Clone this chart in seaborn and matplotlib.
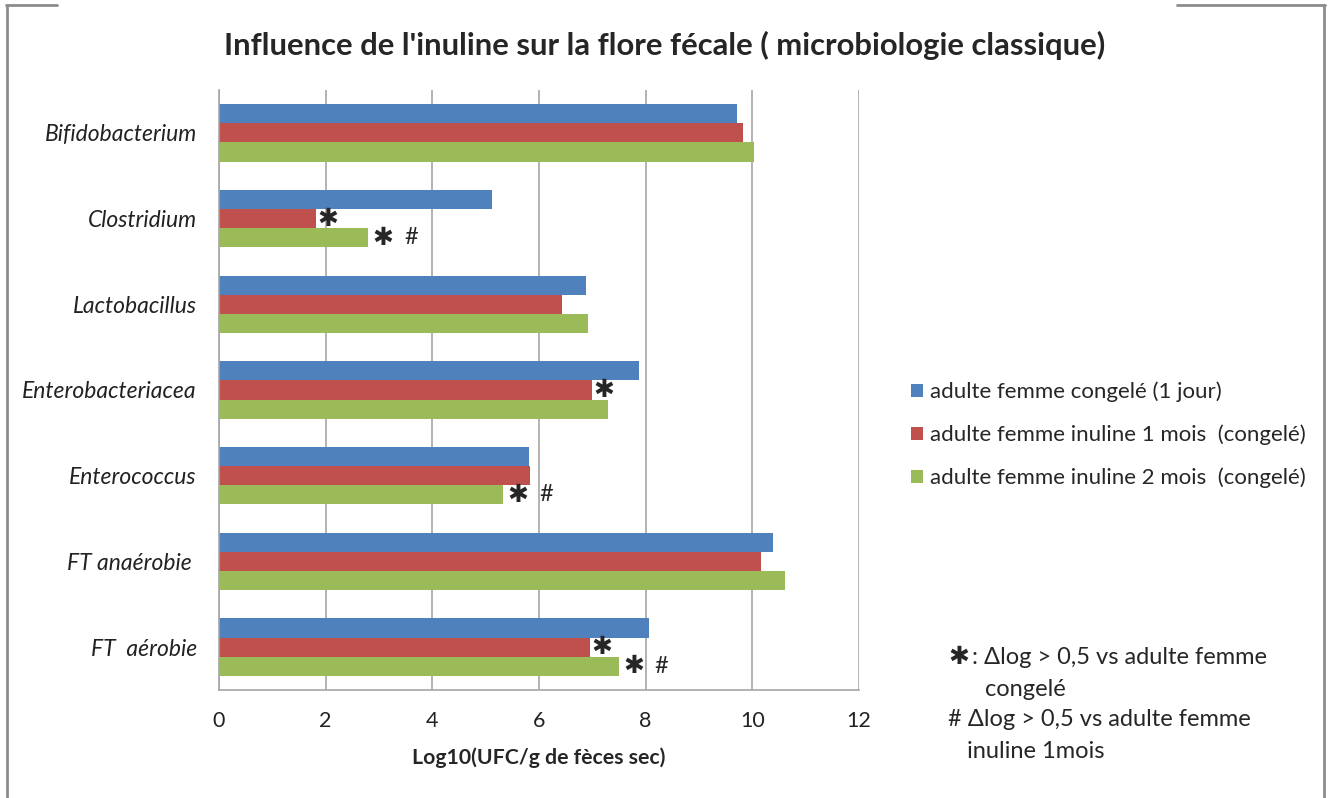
#%%
# Influence de l'inuline sur la flore fécale - barres horizontales groupées
import numpy as np
import pandas as pd
import seaborn as sns
import matplotlib.pyplot as plt
from matplotlib.lines import Line2D
from matplotlib.patches import Patch

# données (log10 UFC/g)
categories = ['Bifidobacterium', 'Clostridium', 'Lactobacillus', 'Enterobacteriacea',
              'Enterococcus', 'FT anaérobie ', 'FT  aérobie']
series = ['adulte femme congelé (1 jour)',
          'adulte femme inuline 1 mois  (congelé)',
          'adulte femme inuline 2 mois  (congelé)']
congele_1j = [9.71, 5.12, 6.88, 7.88, 5.82, 10.39, 8.07]
inuline_1m = [9.82, 1.82, 6.44, 7.00, 5.84, 10.16, 6.96]
inuline_2m = [10.03, 2.80, 6.91, 7.30, 5.33, 10.61, 7.50]

# marques de significativité (1 = présent)
etoile_1m = [0, 1, 0, 1, 0, 0, 1]
etoile_2m = [0, 1, 0, 0, 1, 0, 1]
diese_2m = [0, 1, 0, 0, 1, 0, 1]

x_ticks = [0, 2, 4, 6, 8, 10, 12]

couleurs = ['#4F81BD', '#C0504D', '#9BBB59']

#%%
df = pd.DataFrame({
    'categorie': categories * 3,
    'serie': [series[0]] * 7 + [series[1]] * 7 + [series[2]] * 7,
    'valeur': congele_1j + inuline_1m + inuline_2m,
})

sns.set_style('white')
plt.rcParams['font.family'] = ['Lato', 'DejaVu Sans']

fig = plt.figure(figsize=(13.33, 7.98), dpi=100)
ax = fig.add_axes([219 / 1333, 1 - 690 / 798, 640 / 1333, 600 / 798])

largeur = 0.67
sns.barplot(data=df, y='categorie', x='valeur', hue='serie', order=categories,
            hue_order=series, palette=couleurs, orient='h', width=largeur,
            saturation=1, edgecolor='none', legend=False, ax=ax)

ax.set_xlim(0, 12)
ax.set_ylim(6.5, -0.5)
ax.set_xticks(x_ticks)
ax.set_xticklabels([str(t) for t in x_ticks], fontsize=15.5, color='#222222')
ax.tick_params(axis='x', length=0, pad=15)
ax.tick_params(axis='y', length=0, pad=16)
ax.set_yticks(range(len(categories)))
ax.set_yticklabels(categories, fontsize=16.5, style='italic', color='#222222')
ax.set_ylabel('')
ax.set_xlabel('Log10(UFC/g de fèces sec)', fontsize=15.3, fontweight='bold', labelpad=12)

ax.grid(axis='x', color='#a6a6a6', linewidth=1.2)
ax.set_axisbelow(True)
for s in ['top', 'right']:
    ax.spines[s].set_visible(False)
for s in ['left', 'bottom']:
    ax.spines[s].set_color('#a6a6a6')
    ax.spines[s].set_linewidth(1.2)

# étoiles et dièses à droite des barres
h = largeur / 3
for i in range(len(categories)):
    if etoile_1m[i]:
        ax.text(inuline_1m[i] + 0.22, i, '✱', ha='center', va='center',
                fontsize=18, family='DejaVu Sans')
    if etoile_2m[i]:
        ax.text(inuline_2m[i] + 0.28, i + h, '✱', ha='center', va='center',
                fontsize=18, family='DejaVu Sans')
    if diese_2m[i]:
        ax.text(inuline_2m[i] + 0.8, i + h, '#', ha='center', va='center',
                fontsize=17)

# légende
poignees = [Patch(facecolor=c, edgecolor='none') for c in couleurs]
fig.legend(poignees, series, loc='center left',
           bbox_to_anchor=(891 / 1333, 1 - 435 / 798), frameon=False,
           fontsize=16, handlelength=0.55, handleheight=0.55,
           handletextpad=0.3, labelspacing=1.0)

# titre
fig.text(665 / 1333, 1 - 45 / 798,
         "Influence de l'inuline sur la flore fécale ( microbiologie classique)",
         ha='center', va='center', fontsize=22.3, fontweight='bold')

# note sur les symboles
fig.text(948 / 1333, 1 - 657 / 798, '✱', ha='left', va='center', fontsize=18,
         family='DejaVu Sans')
fig.text(972 / 1333, 1 - 657 / 798, ': Δlog > 0,5 vs adulte femme', ha='left',
         va='center', fontsize=17)
fig.text(985 / 1333, 1 - 689 / 798, 'congelé', ha='left', va='center', fontsize=17)
fig.text(948 / 1333, 1 - 720 / 798, '# Δlog > 0,5 vs adulte femme', ha='left',
         va='center', fontsize=17)
fig.text(967 / 1333, 1 - 751 / 798, 'inuline 1mois', ha='left', va='center', fontsize=17)

# cadre gris autour du graphique
gris = '#8c8c8c'
W, H = 1333, 798
for (x0, y0, x1, y1) in [(7, 5, 7, 800), (1324, 5, 1324, 800),
                         (6, 5, 57, 5), (1177, 5, 1325, 5)]:
    fig.add_artist(Line2D([x0 / W, x1 / W], [1 - y0 / H, 1 - y1 / H],
                          color=gris, linewidth=2, transform=fig.transFigure))

fig.savefig('out.png', dpi=100)
